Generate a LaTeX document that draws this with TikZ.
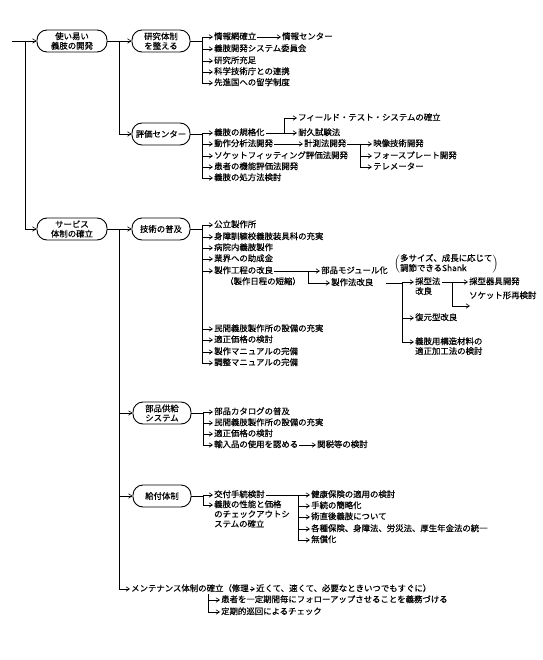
\documentclass[tikz,border=0pt]{standalone}
\usepackage{fontspec}
\setmainfont{Noto Sans CJK JP}[FakeBold=0.4]
\usetikzlibrary{arrows.meta, positioning, calc}

\begin{document}
\begin{tikzpicture}[
    x=1pt, y=-1pt,
    every node/.style={font=\fontsize{8.4}{9.5}\selectfont},
    goal/.style={draw, line width=0.9pt, rounded corners=10pt, minimum height=22pt, minimum width=58pt, align=center, inner sep=1pt},
    item/.style={anchor=west, inner sep=1pt, text height=6.4pt, text depth=1.6pt},
    more/.style={item, below=-0.6pt of #1.south west, anchor=north west},
    line/.style={draw, line width=0.6pt},
    link/.style={line, -{Straight Barb[length=3.5pt, width=4.5pt]}},
]
\useasboundingbox (0,0) rectangle (542,660);

% Main goals
\coordinate (start) at (12,41);
\coordinate (trunk) at (25,41);
\node[goal, minimum width=70pt] (dev) at (72,41) {使い易い\\義肢の開発};
\node[goal, minimum width=70pt] (svc) at (72,229) {サービス\\体制の確立};
\draw[line] (start) -- (trunk);
\draw[link] (trunk) -- (dev);
\draw[link] (trunk) |- (svc);

% Development
\coordinate (devb) at (119,41);
\node[goal] (res) at (161,41) {研究体制\\を整える};
\node[goal] (eval) at (161,134) {評価センター};
\draw[line] (dev) -- (devb);
\draw[link] (devb) -- (res);
\draw[link] (devb) |- (eval);

\coordinate (resb) at (202,41);
\node[item] (r1) at (213,37) {情報網確立};
\node[item] (r2) at (213,49) {義肢開発システム委員会};
\node[item] (r3) at (213,61) {研究所充足};
\node[item] (r4) at (213,72) {科学技術庁との連携};
\node[item] (r5) at (213,83) {先進国への留学制度};
\node[item] (r1a) at (281,37) {情報センター};
\draw[line] (res) -- (resb);
\draw[link] (resb) |- (r1);
\draw[link] (resb) |- (r2);
\draw[link] (resb) |- (r3);
\draw[link] (resb) |- (r4);
\draw[link] (resb) |- (r5);
\draw[link] (r1) -- (r1a);

\coordinate (evalb) at (202,134);
\node[item] (e1) at (213,133) {義肢の規格化};
\node[item] (e2) at (213,144) {動作分析法開発};
\node[item] (e3) at (213,156) {ソケットフィッティング評価法開発};
\node[item] (e4) at (213,167) {患者の機能評価法開発};
\node[item] (e5) at (213,178) {義肢の処方法検討};
\draw[line] (eval) -- (evalb);
\draw[link] (evalb) |- (e1);
\draw[link] (evalb) |- (e2);
\draw[link] (evalb) |- (e3);
\draw[link] (evalb) |- (e4);
\draw[link] (evalb) |- (e5);

\coordinate (e1b) at (284,133);
\node[item] (field) at (297,118) {フィールド・テスト・システムの確立};
\node[item] (dur) at (297,133) {耐久試験法};
\draw[link] (e1) -- (dur);
\draw[link] (e1b) |- (field);

\node[item] (meas) at (303,144) {計測法開発};
\coordinate (measb) at (360,144);
\node[item] (img) at (372,144) {映像技術開発};
\node[item] (force) at (372,156) {フォースプレート開発};
\node[item] (tele) at (372,167) {テレメーター};
\draw[link] (e2) -- (meas);
\draw[link] (meas) -- (img);
\draw[link] (measb) |- (force);
\draw[link] (measb) |- (tele);

% Services
\coordinate (svcb) at (119,229);
\node[goal] (tech) at (161,229) {技術の普及};
\node[goal] (parts) at (162,413) {部品供給\\システム};
\node[goal] (bene) at (162,496) {給付体制};
\node[item] (mnt) at (130,589) {メンテナンス体制の確立（修理};
\node[item] (near) at (255,589) {近くて、速くて、必要なときいつでもすぐに）};
\draw[line] (svc) -- (svcb);
\draw[link] (svcb) -- (tech);
\draw[link] (svcb) |- (parts);
\draw[link] (svcb) |- (bene);
\draw[link] (svcb) |- (mnt);
\draw[link] (mnt) -- (near);

\coordinate (techb) at (202,229);
\node[item] (t1) at (213,225) {公立製作所};
\node[item] (t2) at (213,237) {身障訓練校義肢装具科の充実};
\node[item] (t3) at (213,248) {病院内義肢製作};
\node[item] (t4) at (213,259) {業界への助成金};
\node[item] (t5) at (213,271) {製作工程の改良};
\node[item] (t5a) at (224,282) {（製作日程の短縮）};
\node[item] (t6) at (213,329) {民間義肢製作所の設備の充実};
\node[item] (t7) at (213,340) {適正価格の検討};
\node[item] (t8) at (213,352) {製作マニュアルの完備};
\node[item] (t9) at (213,363) {調整マニュアルの完備};
\draw[line] (tech) -- (techb);
\foreach \n in {t1,t2,t3,t4,t5,t6,t7,t8,t9}
    \draw[link] (techb) |- (\n);

\coordinate (t5b) at (308,271);
\node[item] (mod) at (320,271) {部品モジュール化};
\node[item] (meth) at (330,283) {製作法改良};
\node[anchor=west, inner sep=0pt] (size) at (394,264)
    {$\left(\begin{tabular}{@{}l@{}}多サイズ、成長に応じて\\調節できるShank\end{tabular}\right)$};
\draw[link] (t5) -- (mod);
\draw[link] (t5b) |- (meth);

\coordinate (methb) at (402,283);
\node[item] (m1) at (414,282) {採型法};
\node[more=m1] (m1x) {改良};
\node[item] (m2) at (414,318) {復元型改良};
\node[item] (m3) at (414,342) {義肢用構造材料の};
\node[more=m3] (m3x) {適正加工法の検討};
\draw[line, shorten <=12pt] (meth) -- (methb);
\draw[link] (methb) |- (m1);
\draw[link] (methb) |- (m2);
\draw[link] (methb) |- (m3);

\coordinate (m1b) at (452,282);
\coordinate (m1c) at (470,306);
\node[item] (cast) at (468,282) {採型器具開発};
\node[item] (sock) at (468,296) {ソケット形再検討};
\draw[link] (m1) -- (cast);
\draw[link] (m1b) |- (m1c);

\coordinate (partsb) at (203,413);
\node[item] (p1) at (213,412) {部品カタログの普及};
\node[item] (p2) at (213,423) {民間義肢製作所の設備の充実};
\node[item] (p3) at (213,434) {適正価格の検討};
\node[item] (p4) at (213,445) {輸入品の使用を認める};
\node[item] (tax) at (316,445) {関税等の検討};
\draw[line] (parts) -- (partsb);
\foreach \n in {p1,p2,p3,p4}
    \draw[link] (partsb) |- (\n);
\draw[link] (p4) -- (tax);

\coordinate (beneb) at (203,496);
\node[item] (b1) at (213,495) {交付手続検討};
\node[item] (b2) at (213,505) {義肢の性能と価格};
\node[more=b2] (b2x) {のチェックアウトシ};
\node[more=b2x] (b2y) {ステムの確立};
\draw[line] (bene) -- (beneb);
\draw[link] (beneb) |- (b1);
\draw[link] (beneb) |- (b2);

\coordinate (b1b) at (298,495);
\node[item] (k1) at (310,495) {健康保険の適用の検討};
\node[item] (k2) at (310,506) {手続の簡略化};
\node[item] (k3) at (310,517) {術直後義肢について};
\node[item] (k4) at (310,529) {各種保険、身障法、労災法、厚生年金法の統一};
\node[item] (k5) at (310,540) {無償化};
\draw[link] (b1) -- (k1);
\foreach \n in {k2,k3,k4,k5}
    \draw[link] (b1b) |- (\n);

\coordinate (mntb) at (208,594);
\node[item] (f1) at (220,600) {患者を一定期間毎にフォローアップさせることを義務づける};
\node[item] (f2) at (220,612) {定期的巡回によるチェック};
\draw[link] (mntb) |- (f1);
\draw[link] (mntb) |- (f2);

\end{tikzpicture}
\end{document}
